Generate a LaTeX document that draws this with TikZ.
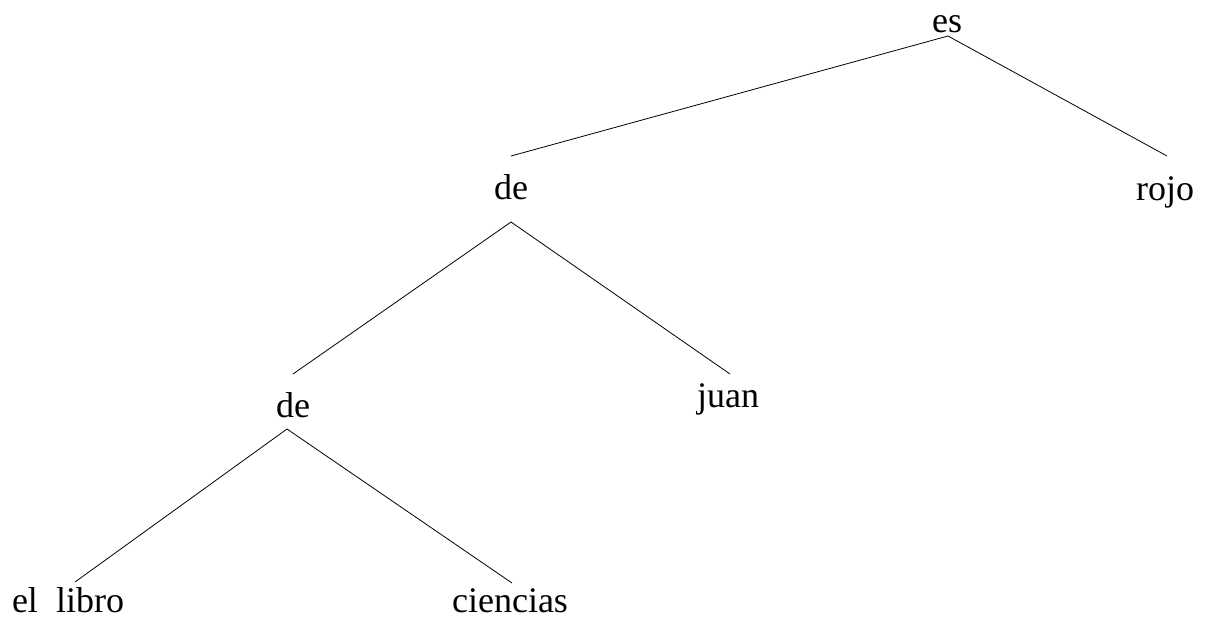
\documentclass[tikz,border=0pt]{standalone}
\usepackage{fontspec}
\setmainfont{Liberation Serif}

\begin{document}
\begin{tikzpicture}[x=1pt,y=-1pt,
  word/.style={anchor=base,inner sep=0pt,font=\fontsize{36}{40}\selectfont},
  link/.style={line width=0.8pt}]
\useasboundingbox (0,0) rectangle (1205,616);
\node[word] (es)       at (947,32)  {es};
\node[word] (de1)      at (511,199) {de};
\node[word] (rojo)     at (1165,200) {rojo};
\node[word] (de2)      at (293,417) {de};
\node[word] (juan)     at (728,407) {juan};
\node[word] (libro)    at (68,612)  {el~~libro};
\node[word] (ciencias) at (510,612) {ciencias};
\draw[link] ([shift={(1,4)}]es.base) -- ([shift={(0,-43)}]de1.base);
\draw[link] ([shift={(1,4)}]es.base) -- ([shift={(2,-44)}]rojo.base);
\draw[link] ([shift={(0,23)}]de1.base) -- ([shift={(0,-43)}]de2.base);
\draw[link] ([shift={(0,23)}]de1.base) -- ([shift={(2,-33)}]juan.base);
\draw[link] ([shift={(-6,12)}]de2.base) -- ([shift={(7,-30)}]libro.base);
\draw[link] ([shift={(-6,12)}]de2.base) -- ([shift={(2,-29)}]ciencias.base);
\end{tikzpicture}
\end{document}
